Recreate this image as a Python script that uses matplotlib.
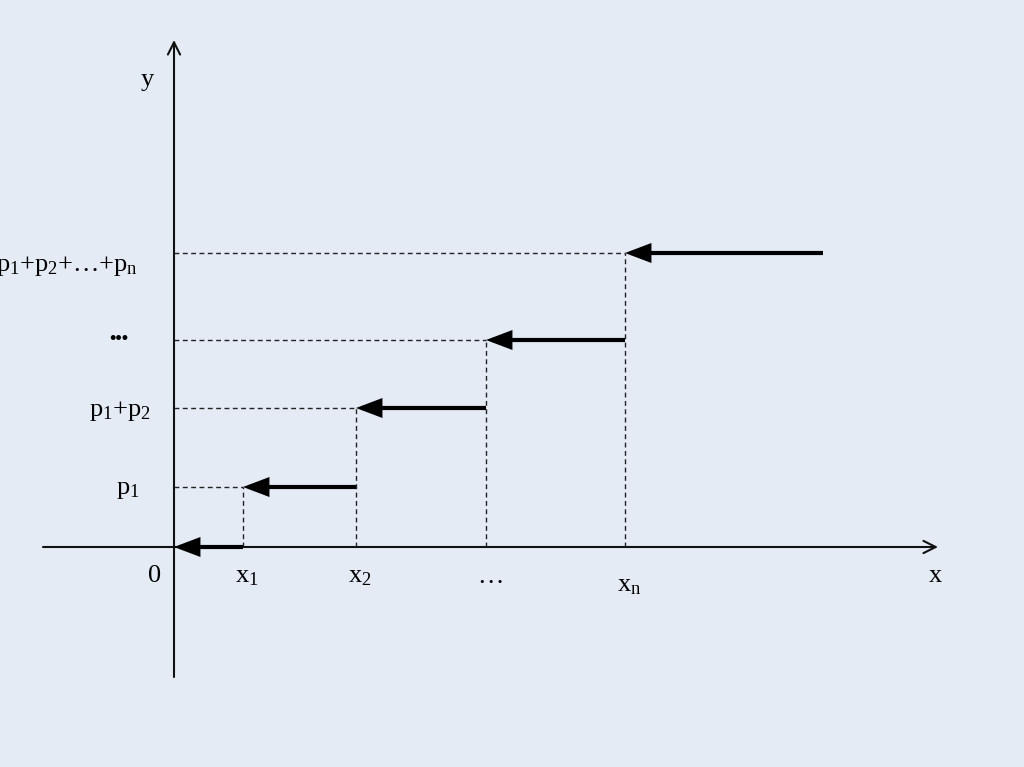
import matplotlib.pyplot as plt

plt.rcParams['font.family'] = ['Liberation Serif', 'DejaVu Serif']
plt.rcParams['mathtext.fontset'] = 'custom'
plt.rcParams['mathtext.rm'] = 'Liberation Serif'
plt.rcParams['mathtext.default'] = 'regular'

# step points of the distribution function
x_steps = [0.69, 1.82, 3.12, 4.51]
x_end = 6.49
levels = [0.0, 0.60, 1.39, 2.07, 2.94]
x_labels = ['x$_1$', 'x$_2$', '…', 'x$_n$']
y_labels = ['p$_1$', 'p$_1$+p$_2$', '•••', 'p$_1$+p$_2$+…+p$_n$']

bg = '#e4ebf5'
fig = plt.figure(figsize=(10.24, 7.67), dpi=100, facecolor=bg)
ax = fig.add_axes([0, 0, 1, 1])
ax.set_facecolor(bg)
ax.set_xlim(-1.74, 8.50)
ax.set_ylim(-2.20, 5.47)
ax.axis('off')

# axes with open arrowheads
ax.annotate('', xy=(7.64, 0), xytext=(-1.31, 0),
            arrowprops=dict(arrowstyle='->', lw=1.5, color='#111111',
                            mutation_scale=22, shrinkA=0, shrinkB=0))
ax.annotate('', xy=(0, 5.07), xytext=(0, -1.30),
            arrowprops=dict(arrowstyle='->', lw=1.5, color='#111111',
                            mutation_scale=22, shrinkA=0, shrinkB=0))

# dashed guides
for xs, lv in zip(x_steps, levels[1:]):
    ax.plot([0, xs], [lv, lv], ls=(0, (3.5, 2.5)), lw=1.0, color='#222222')
    ax.plot([xs, xs], [0, lv], ls=(0, (3.5, 2.5)), lw=1.0, color='#222222')

# step segments as left-pointing arrows
starts = [0.0] + x_steps
ends = x_steps + [x_end]
for a, b, lv in zip(starts, ends, levels):
    ax.annotate('', xy=(a, lv), xytext=(b, lv),
                arrowprops=dict(arrowstyle='-|>,head_length=0.95,head_width=0.36',
                                lw=3.0, color='black', mutation_scale=14,
                                shrinkA=0, shrinkB=0, joinstyle='miter',
                                capstyle='butt'))

fs = 19
ax.text(-0.27, 4.67, 'y', fontsize=fs, ha='center', va='center')
ax.text(7.61, -0.29, 'x', fontsize=fs, ha='center', va='center')
ax.text(-0.19, -0.29, '0', fontsize=fs, ha='center', va='center')
for xs, lab in zip(x_steps, x_labels):
    dy = -0.39 if lab == 'x$_n$' else -0.30
    ax.text(xs + 0.04, dy, lab, fontsize=fs, ha='center', va='center')

y_pos = [(-0.34, -0.03), (-0.23, -0.03), (-0.46, 0.0), (-0.36, -0.13)]
for lv, lab, (dx, dy) in zip(levels[1:], y_labels, y_pos):
    size = 13 if lab == '•••' else fs
    ax.text(dx, lv + dy, lab, fontsize=size, ha='right', va='center',
            fontweight='bold' if lab == '•••' else 'normal')

fig.savefig('out.png', dpi=100, facecolor=bg)
